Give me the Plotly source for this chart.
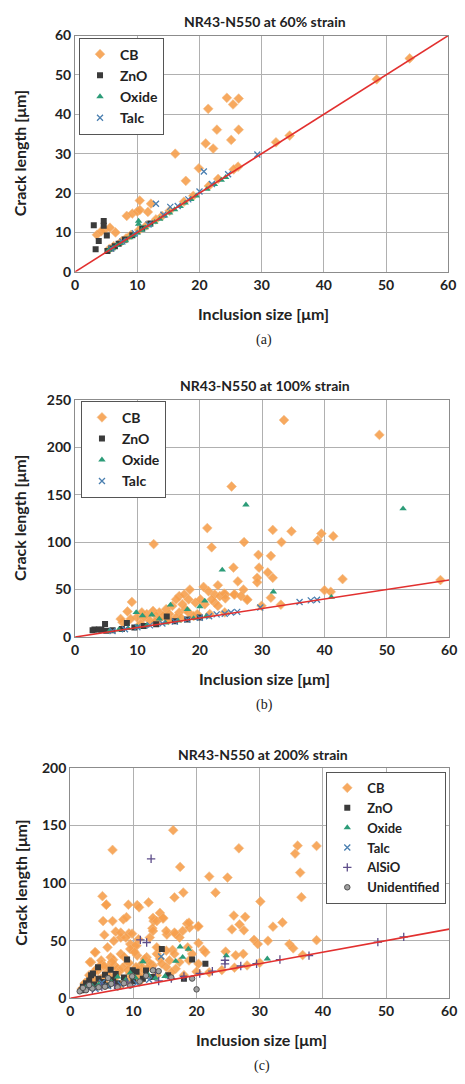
import plotly.graph_objects as go

# ---------------- data: (a) 60% strain ----------------
cb_a_x = [24.4, 26.3, 25.4, 21.4, 22.8, 26.3, 21.0, 22.2, 25.1, 16.1, 19.9, 17.8, 10.4, 12.2, 8.3, 9.2, 10.0, 10.4, 11.7,
          3.5, 4.8, 5.6, 6.5, 4.2,
          53.8, 48.5, 32.3, 34.5, 26.2, 25.5, 23.0, 21.5, 19.0, 17.5, 15.2, 13.0, 11.5, 10.3, 9.0, 7.5, 6.2, 5.5, 8.2, 14.0]
cb_a_y = [44.2, 44.0, 42.5, 41.4, 36.1, 36.1, 32.6, 31.3, 33.5, 30.0, 26.3, 23.1, 18.1, 17.3, 14.2, 14.8, 15.3, 15.7, 15.2,
          9.4, 10.7, 11.2, 10.0, 10.3,
          54.2, 48.9, 32.9, 34.6, 26.7, 26.0, 23.6, 21.8, 19.3, 17.8, 15.5, 13.3, 11.8, 10.6, 9.4, 7.8, 6.5, 5.8, 8.5, 14.2]
zno_a_x = [3.0, 4.6, 4.6, 3.8, 5.1, 3.3, 5.2, 5.8, 6.4, 7.0, 8.0, 9.2, 10.8, 12.1]
zno_a_y = [11.8, 12.9, 11.7, 7.8, 9.2, 5.7, 5.3, 5.9, 6.5, 7.1, 8.2, 9.3, 11.0, 12.3]
oxide_a_x = [10.2, 10.2, 5.4, 6.0, 6.7, 7.3, 8.1, 8.8, 9.4, 10.0, 10.7, 11.3, 12.0, 12.8, 13.6, 14.4, 15.2, 16.0,
             16.9, 17.7, 18.6, 19.5, 21.2, 22.4, 23.5, 24.2]
oxide_a_y = [12.9, 12.1, 5.5, 5.9, 6.7, 7.2, 7.9, 8.7, 9.3, 9.9, 10.6, 11.2, 11.9, 12.6, 13.4, 14.2, 15.0, 15.8,
             16.6, 17.5, 18.4, 19.3, 21.0, 22.2, 23.3, 24.0]
talc_a_x = [13.0, 20.7, 15.3, 24.6, 29.3, 20.0, 5.8, 7.6, 9.6, 11.8, 14.2, 16.5, 18.2, 22.0]
talc_a_y = [17.3, 25.5, 16.5, 24.8, 29.8, 20.4, 5.9, 7.7, 9.8, 12.0, 14.5, 16.7, 18.4, 22.3]

# ---------------- data: (b) 100% strain ----------------
cb_b_x = [33.5, 48.8, 25.1, 21.2, 12.6, 21.9, 27.1, 31.7, 34.7, 39.5, 38.9, 41.4, 33.1, 29.4, 31.4, 29.5, 25.4, 30.9,
          31.7, 29.2, 29.2, 26.1, 42.9, 40.0, 41.0, 31.4, 27.0, 27.6, 25.6, 18.4, 20.6, 22.9, 24.1, 9.1, 8.4,
          16.7, 17.5, 16.2, 18.2, 19.3, 20.1, 21.4, 22.4, 23.2, 23.9, 24.1, 25.5, 26.6, 27.6, 22.4, 20.8, 15.6,
          14.6, 13.5, 12.5, 11.5, 10.7, 9.9, 11.0, 13.0, 14.1, 15.1, 16.7, 17.7, 18.2, 19.6, 17.2, 16.2, 15.1,
          13.5, 12.0, 8.9, 7.6, 7.3, 21.9, 22.9, 21.6, 24.0, 58.6, 29.9, 33.0, 10.5, 12.8, 15.0, 17.0, 19.0]
cb_b_y = [228.6, 213.0, 158.6, 114.8, 97.9, 94.5, 100.0, 112.8, 111.4, 109.0, 102.0, 106.2, 100.0, 86.6, 85.5, 73.1,
          73.1, 68.0, 62.4, 62.4, 57.6, 58.6, 61.0, 49.3, 47.6, 41.4, 50.0, 39.0, 44.8, 50.0, 52.8, 54.5, 44.8, 36.9,
          26.9, 43.1, 44.8, 39.6, 39.6, 36.2, 39.6, 48.2, 44.8, 43.1, 45.8, 40.7, 44.8, 43.1, 39.6, 36.2, 34.5, 32.7,
          29.3, 25.9, 27.5, 24.1, 25.9, 20.7, 20.7, 22.4, 22.4, 24.1, 25.9, 29.3, 25.9, 24.1, 34.5, 20.7, 19.0,
          19.0, 17.2, 19.0, 15.5, 19.0, 39.6, 32.7, 24.1, 25.9, 60.0, 32.8, 34.0, 14.0, 16.0, 18.0, 20.0, 22.0]
zno_b_x = [4.8, 8.3, 14.7, 3.1, 3.8, 2.8, 4.2, 5.0, 6.0, 7.5, 9.5, 11.0, 13.0, 16.0, 18.0, 20.0]
zno_b_y = [13.8, 14.8, 21.7, 7.9, 7.9, 7.0, 7.5, 6.5, 7.0, 8.5, 10.0, 11.5, 13.5, 16.5, 18.5, 20.5]
oxide_b_x = [27.4, 52.6, 23.6, 31.8, 9.8, 15.3, 20.8, 12.3, 41.1, 10.8, 18.0, 20.0, 13.5, 5.5, 7.0, 8.5, 10.0, 11.5,
             14.5, 16.5, 19.0, 21.0]
oxide_b_y = [139.3, 135.2, 70.7, 47.6, 25.9, 33.8, 38.0, 23.4, 42.0, 22.5, 29.0, 32.0, 19.0, 6.0, 7.5, 9.0, 10.5, 12.0,
             15.0, 17.0, 19.5, 21.5]
talc_b_x = [22.7, 24.0, 25.0, 26.0, 29.7, 36.0, 37.8, 38.8, 6.0, 8.0, 10.0, 12.0, 14.0, 16.0, 18.0, 20.0, 21.5]
talc_b_y = [23.8, 24.5, 25.8, 26.5, 31.0, 36.9, 38.6, 39.2, 6.3, 8.2, 10.3, 12.2, 14.3, 16.2, 18.3, 20.3, 21.8]

# ---------------- data: (c) 200% strain ----------------
cb_c_x = [16.3, 6.7, 26.7, 36.0, 39.0, 35.6, 36.4, 17.4, 22.0, 24.9, 16.5, 17.9, 23.0, 5.1, 5.7, 10.6, 10.9, 12.4,
          30.1, 36.6, 5.2, 6.7, 8.4, 8.9, 25.9, 27.7, 27.5, 25.6, 26.8, 32.1, 33.6, 18.5, 18.9, 20.2, 13.2, 14.2,
          14.7, 13.0, 7.2, 9.3, 8.0, 5.4, 39.0, 29.1, 29.7, 31.3, 34.7, 35.3, 27.4, 24.6, 26.2, 20.3, 21.1, 15.3,
          16.7, 4.0, 3.3, 10.0, 10.5, 9.5, 13.7, 16.2,
          9.2, 5.7, 13.1, 13.7, 14.7, 8.0, 9.8, 13.1, 15.2, 16.5, 17.8, 18.8, 20.3, 17.3, 12.6, 10.8, 8.8, 6.9, 5.9,
          10.3, 9.5, 13.7, 15.2, 16.5, 18.6, 19.3, 3.9, 3.1, 4.9, 6.4, 8.0, 10.6, 12.1, 14.2, 15.7, 17.3, 18.8,
          20.3, 7.0, 9.0, 11.1, 13.1, 15.2, 16.7, 4.4, 5.9, 7.7, 9.5, 11.6, 13.7, 3.4, 4.9, 7.0, 9.0, 11.1, 2.3,
          5.4, 8.0, 21.4, 2.0, 2.8, 3.6, 4.2, 5.0, 6.0, 6.8, 7.5, 8.5, 9.3, 10.2, 11.8, 12.8, 14.5, 16.0, 18.0,
          20.0, 22.0, 24.0, 26.0, 28.0, 30.0, 36.8, 3.0, 4.5, 6.2, 7.8, 9.8, 11.3, 12.5, 1.8, 2.6, 3.8, 5.3,
          6.6, 8.3, 10.8, 12.2, 2.4, 4.1, 5.8, 7.3, 9.1, 10.4]
cb_c_y = [145.9, 128.8, 130.2, 132.5, 132.2, 125.6, 109.1, 114.0, 105.7, 104.8, 87.5, 91.8, 91.7, 88.6, 81.2, 80.9,
          78.9, 83.2, 84.0, 87.7, 67.0, 67.0, 68.4, 70.4, 71.8, 70.7, 59.0, 59.8, 64.1, 62.1, 65.8, 64.7, 61.3,
          62.1, 67.0, 74.1, 69.2, 60.7, 57.8, 56.4, 52.7, 55.0, 50.4, 50.7, 47.0, 49.9, 47.0, 43.3, 38.5, 40.5,
          37.3, 47.9, 41.9, 55.3, 55.6, 39.9, 31.3, 41.3, 45.6, 47.0, 38.5, 41.9,
          81.2, 81.2, 69.8, 66.9, 69.8, 57.0, 56.1, 58.4, 58.4, 57.0, 58.4, 65.6, 62.6, 52.7, 52.7, 51.3, 52.7,
          49.8, 44.2, 45.6, 42.7, 44.2, 41.3, 38.5, 44.2, 38.5, 39.9, 31.4, 32.8, 35.6, 38.5, 37.1, 35.6, 34.2,
          32.8, 31.4, 32.8, 29.9, 28.5, 29.9, 28.5, 28.5, 27.1, 25.6, 24.2, 22.8, 22.8, 21.4, 21.4, 19.9, 18.5,
          17.1, 17.1, 15.6, 15.1, 12.8, 12.8, 11.4, 39.9, 9.0, 11.5, 14.0, 25.5, 30.0, 27.0, 33.5, 26.0, 36.0,
          30.5, 40.0, 34.0, 29.0, 30.0, 22.5, 20.0, 23.0, 22.5, 24.5, 26.5, 28.5, 30.8, 37.5, 20.0, 16.0, 19.0,
          24.0, 18.5, 26.0, 31.0, 8.0, 10.0, 23.0, 28.0, 31.5, 26.5, 20.0, 26.0, 13.5, 15.0, 18.0, 21.0, 24.5,
          27.0]
zno_c_x = [14.5, 9.0, 21.4, 19.3, 9.9, 4.4, 6.4, 3.3, 2.0, 2.5, 3.0, 3.8, 4.5, 5.2, 6.0, 6.8, 7.5, 8.5, 10.0, 11.5,
           13.0, 1.8, 2.2, 15.5, 18.0, 10.5, 7.2, 5.5, 3.6, 12.0]
zno_c_y = [42.7, 33.6, 29.9, 33.6, 24.2, 27.0, 24.8, 19.9, 10.0, 13.0, 15.5, 12.0, 17.0, 14.0, 11.0, 16.0, 13.0,
           18.0, 15.0, 17.0, 18.5, 7.0, 8.5, 20.0, 17.0, 23.0, 21.0, 20.5, 21.5, 24.0]
oxide_c_x = [17.4, 18.7, 17.8, 16.7, 11.5, 24.7, 31.2, 12.4, 10.3, 8.8, 6.5, 4.5, 3.5, 9.5, 13.5, 2.5, 7.5, 15.0]
oxide_c_y = [44.7, 42.7, 35.6, 32.2, 31.9, 37.0, 34.2, 20.0, 18.0, 16.0, 14.0, 12.0, 10.5, 22.0, 17.5, 9.5, 18.5, 19.0]
talc_c_x = [14.4, 4.0, 6.0, 8.0, 10.5, 3.0, 12.5, 5.0, 2.2]
talc_c_y = [36.3, 8.0, 10.5, 12.0, 13.0, 9.0, 16.0, 13.5, 7.5]
alsio_c_x = [12.8, 11.1, 12.1, 24.5, 33.2, 48.7, 52.8, 37.8, 27.0, 29.5, 20.5, 22.5, 18.0, 16.0, 14.0, 5.0, 7.0,
             9.0, 3.5, 13.5, 24.5]
alsio_c_y = [121.1, 50.7, 48.4, 29.9, 33.6, 48.7, 53.3, 37.0, 28.0, 30.0, 21.5, 23.5, 19.0, 17.0, 15.0, 10.0, 11.5,
             14.0, 7.5, 23.0, 33.0]
unid_c_x = [20.0, 19.3, 13.1, 1.5, 2.5, 3.5, 4.5, 5.5, 6.5, 7.5, 8.5, 9.5, 11.0, 12.0, 14.0, 16.0, 3.0, 2.0, 6.0, 9.8]
unid_c_y = [7.7, 17.1, 24.2, 6.0, 7.0, 8.5, 9.5, 10.0, 12.5, 9.5, 13.0, 11.0, 14.5, 19.5, 23.5, 18.0, 11.5, 9.0,
            17.5, 19.0]

diag_x = [0, 60]
diag_y = [0, 60]

titles = ["NR43-N550 at 60% strain", "NR43-N550 at 100% strain", "NR43-N550 at 200% strain"]
captions = ["(a)", "(b)", "(c)"]
y_ranges = [[0, 60], [0, 250], [0, 200]]
y_dticks = [10, 50, 50]

W, H = 465, 1084
FONT = "Lato"

def px(x):
    return x / W

def py(y):
    return 1 - y / H

# plot boxes in pixels: (left, right, top, bottom)
boxes = [(73, 456, 27, 267), (73, 457, 397, 638), (68, 457, 771, 1005)]

styles = {
    "CB": dict(symbol="diamond", color="#F7A04E", size=7.5),
    "ZnO": dict(symbol="square", color="#3B3B3B", size=6),
    "Oxide": dict(symbol="triangle-up", color="#2C9C78", size=6.5),
    "Talc": dict(symbol="x-thin", color="#4A7FB0", size=6),
    "AlSiO": dict(symbol="cross-thin", color="#5E4D8A", size=6),
    "Unidentified": dict(symbol="circle", color="#8A8A8A", size=5.5),
}

fig = go.Figure()

def add(name, xs, ys, k):
    st = styles[name]
    suffix = "" if k == 0 else str(k + 1)
    if st["symbol"] in ("x-thin", "cross-thin"):
        marker = dict(symbol=st["symbol"], size=st["size"], color=st["color"],
                      line=dict(color=st["color"], width=1.3))
    elif name == "Unidentified":
        marker = dict(symbol="circle", size=st["size"], color="#A0A0A0", line=dict(color="#505050", width=1))
    elif name == "CB":
        marker = dict(symbol="diamond", size=st["size"], color=st["color"], opacity=0.9,
                      line=dict(color="#F2B77E", width=0.6))
    else:
        marker = dict(symbol=st["symbol"], size=st["size"], color=st["color"])
    fig.add_trace(go.Scatter(x=xs, y=ys, mode="markers", name=name, marker=marker,
                             xaxis="x" + suffix, yaxis="y" + suffix, legend="legend" + suffix))

sets = [
    [("CB", cb_a_x, cb_a_y), ("ZnO", zno_a_x, zno_a_y), ("Oxide", oxide_a_x, oxide_a_y), ("Talc", talc_a_x, talc_a_y)],
    [("CB", cb_b_x, cb_b_y), ("ZnO", zno_b_x, zno_b_y), ("Oxide", oxide_b_x, oxide_b_y), ("Talc", talc_b_x, talc_b_y)],
    [("CB", cb_c_x, cb_c_y), ("ZnO", zno_c_x, zno_c_y), ("Oxide", oxide_c_x, oxide_c_y), ("Talc", talc_c_x, talc_c_y),
     ("AlSiO", alsio_c_x, alsio_c_y), ("Unidentified", unid_c_x, unid_c_y)],
]

for k, s in enumerate(sets):
    for name, xs, ys in s:
        add(name, xs, ys, k)
    suffix = "" if k == 0 else str(k + 1)
    fig.add_trace(go.Scatter(x=diag_x, y=diag_y, mode="lines", line=dict(color="#E2302F", width=1.6),
                             showlegend=False, xaxis="x" + suffix, yaxis="y" + suffix, hoverinfo="skip"))

layout = dict(width=W, height=H, margin=dict(l=0, r=0, t=0, b=0), paper_bgcolor="white", plot_bgcolor="white",
              showlegend=True)

axis_common = dict(showgrid=True, gridcolor="#B0B0B0", gridwidth=1, showline=True, linecolor="#8C8C8C",
                   linewidth=1.2, mirror=True, zeroline=False, ticks="",
                   tickfont=dict(family=FONT, size=14, color="#222222", weight="bold"))

annotations = []
# legend anchors: (x, y, xanchor)
legend_pos = [(77, 29, "left"), (79, 398, "left"), (454, 775, "right")]
legend_font = [14, 14, 13]

def ann(text, x, y, size, family=FONT, bold=True, angle=0):
    f = dict(family=family, size=size, color="#222222")
    if bold:
        f["weight"] = "bold"
    return dict(text=text, x=px(x), y=py(y), xref="paper", yref="paper", xanchor="center", yanchor="middle",
                showarrow=False, textangle=angle, font=f)

for k, (l, r, t, b) in enumerate(boxes):
    suffix = "" if k == 0 else str(k + 1)
    xa = dict(axis_common, domain=[px(l), px(r)], range=[0, 60], dtick=10, anchor="y" + suffix)
    ya = dict(axis_common, domain=[py(b), py(t)], range=y_ranges[k], dtick=y_dticks[k], anchor="x" + suffix)
    layout["xaxis" + suffix] = xa
    layout["yaxis" + suffix] = ya
    lx, ly, anc = legend_pos[k]
    layout["legend" + suffix] = dict(x=px(lx), y=py(ly), xanchor=anc, yanchor="top",
                                     bgcolor="white", bordercolor="#555555", borderwidth=1,
                                     font=dict(family=FONT, size=legend_font[k], color="#222222", weight="bold"),
                                     itemsizing="trace", tracegroupgap=0, itemwidth=30)
    cx = (l + r) / 2
    annotations.append(ann(titles[k], cx + 3, t - 14, 14))
    annotations.append(ann("Inclusion size [μm]", cx + 2, b + 42, 16))
    annotations.append(ann("Crack length [μm]", 16, (t + b) / 2, 16, angle=-90))
    annotations.append(ann(captions[k], cx + 2, b + 69, 14, family="Liberation Serif", bold=False))

layout["annotations"] = annotations
fig.update_layout(**layout)
fig.write_html("out.html", config={"displayModeBar": False},
               post_script="document.body.style.margin='0';document.body.style.overflow='hidden';")
